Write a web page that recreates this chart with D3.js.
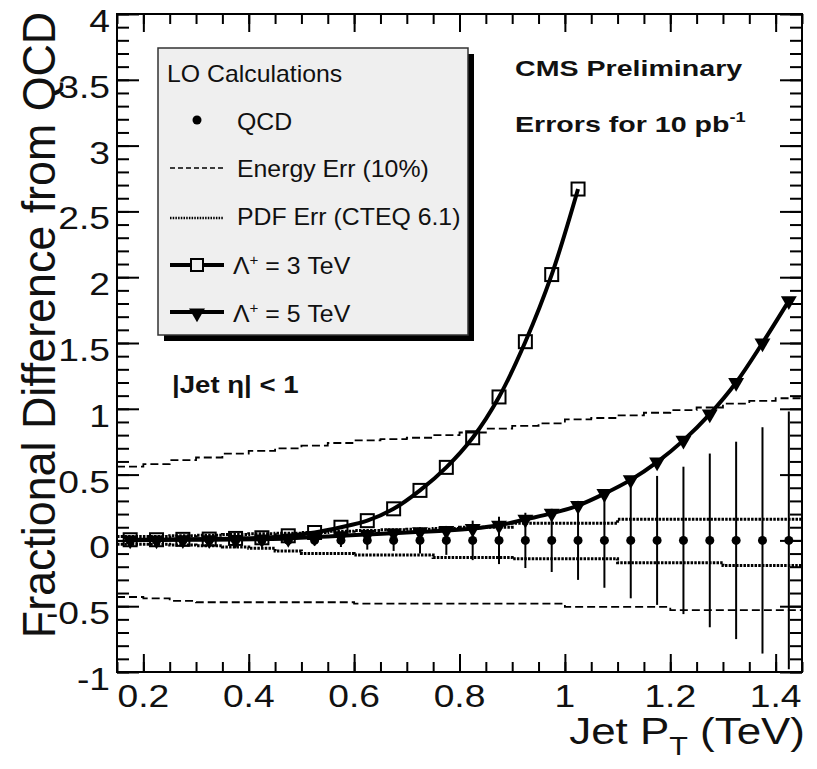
<!DOCTYPE html>
<html>
<head>
<meta charset="utf-8">
<script src="https://cdn.jsdelivr.net/npm/d3@7"></script>
<style>
  body { margin: 0; background: #ffffff; }
  svg { display: block; font-family: "Liberation Sans", Arial, Helvetica, sans-serif; }
</style>
</head>
<body>
<div id="chart"></div>
<script>
// bin centres of the jet pT histogram (TeV)
const binCenters = [0.175, 0.225, 0.275, 0.325, 0.375, 0.425, 0.475, 0.525, 0.575, 0.625,
    0.675, 0.725, 0.775, 0.825, 0.875, 0.925, 0.975, 1.025, 1.075, 1.125,
    1.175, 1.225, 1.275, 1.325, 1.375, 1.425];
const binWidth = 0.05;

// QCD statistical error for 10 pb-1 (points sit at 0)
const qcdErr = [0.005, 0.005, 0.008, 0.01, 0.015, 0.02, 0.03, 0.04, 0.05, 0.07,
    0.08, 0.1, 0.11, 0.15, 0.18, 0.21, 0.24, 0.3, 0.36, 0.44,
    0.49, 0.56, 0.66, 0.75, 0.86, 0.98];

// contact interaction Lambda+ = 3 TeV (first 18 bins)
const lambda3 = [0.005, 0.005, 0.008, 0.01, 0.015, 0.02, 0.035, 0.06, 0.1, 0.15,
    0.24, 0.38, 0.555, 0.78, 1.09, 1.51, 2.02, 2.67];

// contact interaction Lambda+ = 5 TeV
const lambda5 = [0.002, 0.003, 0.004, 0.005, 0.007, 0.01, 0.015, 0.025, 0.035, 0.045,
    0.055, 0.065, 0.075, 0.09, 0.115, 0.16, 0.205, 0.265, 0.355, 0.46,
    0.595, 0.76, 0.96, 1.2, 1.5, 1.82];

// jet energy scale error (10%)
const energyUp = [0.56, 0.58, 0.61, 0.63, 0.66, 0.68, 0.7, 0.72, 0.74, 0.76,
    0.77, 0.78, 0.8, 0.82, 0.85, 0.87, 0.89, 0.92, 0.93, 0.95,
    0.97, 0.99, 1.01, 1.04, 1.06, 1.08];
const energyDown = [-0.43, -0.44, -0.46, -0.47, -0.47, -0.47, -0.47, -0.47, -0.47, -0.48,
    -0.48, -0.48, -0.48, -0.48, -0.48, -0.48, -0.48, -0.505, -0.505, -0.505,
    -0.505, -0.53, -0.53, -0.53, -0.53, -0.53];

// PDF error (CTEQ 6.1)
const pdfUp = [0.03, 0.03, 0.035, 0.04, 0.045, 0.05, 0.055, 0.06, 0.07, 0.075,
    0.08, 0.085, 0.09, 0.1, 0.1, 0.13, 0.13, 0.13, 0.13, 0.16,
    0.16, 0.16, 0.16, 0.16, 0.16, 0.16];
const pdfDown = [-0.03, -0.03, -0.035, -0.04, -0.05, -0.06, -0.08, -0.1, -0.1, -0.11,
    -0.11, -0.11, -0.13, -0.13, -0.13, -0.14, -0.14, -0.14, -0.14, -0.17,
    -0.17, -0.17, -0.17, -0.19, -0.19, -0.19];

const xTicks = [0.2, 0.4, 0.6, 0.8, 1.0, 1.2, 1.4];
const xTickLabels = ["0.2", "0.4", "0.6", "0.8", "1", "1.2", "1.4"];
const yTicks = [-1, -0.5, 0, 0.5, 1, 1.5, 2, 2.5, 3, 3.5, 4];
const yTickLabels = ["-1", "-0.5", "0", "0.5", "1", "1.5", "2", "2.5", "3", "3.5", "4"];

// set the dimensions of the frame
let W = 817, H = 769;
let frame = {left: 117, right: 802, top: 14, bottom: 672};
let sx = 1.17; // the picture is horizontally stretched

let svg = d3.select("#chart").append("svg")
    .attr("width", W)
    .attr("height", H);

svg.append("rect").attr("width", W).attr("height", H).attr("fill", "#fff");

let x = d3.scaleLinear().domain([0.15, 1.45]).range([frame.left, frame.right]);
let y = d3.scaleLinear().domain([-1, 4]).range([frame.bottom, frame.top]);

// stretched text helper
function label(g, px, py, txt, size, anchor, weight, stretch, stretchY) {
    return g.append("text")
        .attr("transform", "translate(" + px + "," + py + ") scale(" + (stretch || sx) + "," + (stretchY || 1) + ")")
        .attr("text-anchor", anchor || "start")
        .style("font-size", size + "px")
        .style("font-weight", weight || "normal")
        .style("fill", "#111")
        .text(txt);
}

let plot = svg.append("g");

// energy and pdf error as histogram outlines
function stepPoints(vals) {
    let pts = [];
    vals.forEach(function (v, i) {
        pts.push([binCenters[i] - binWidth / 2, v]);
        pts.push([binCenters[i] + binWidth / 2, v]);
    });
    return pts;
}
let stepLine = d3.line().x(d => x(d[0])).y(d => y(d[1]));

[energyUp, energyDown].forEach(function (vals) {
    plot.append("path")
        .attr("d", stepLine(stepPoints(vals)))
        .attr("fill", "none")
        .attr("stroke", "#000")
        .attr("stroke-width", 1.8)
        .attr("stroke-dasharray", "8,4");
});

[pdfUp, pdfDown].forEach(function (vals) {
    plot.append("path")
        .attr("d", stepLine(stepPoints(vals)))
        .attr("fill", "none")
        .attr("stroke", "#000")
        .attr("stroke-width", 3)
        .attr("stroke-dasharray", "2.5,1.2");
});

// QCD error bars and points
plot.selectAll(".err")
    .data(binCenters)
    .enter().append("line")
    .attr("x1", d => x(d)).attr("x2", d => x(d))
    .attr("y1", (d, i) => y(qcdErr[i])).attr("y2", (d, i) => y(-qcdErr[i]))
    .attr("stroke", "#000")
    .attr("stroke-width", 2);

plot.selectAll(".qcd")
    .data(binCenters)
    .enter().append("circle")
    .attr("cx", d => x(d)).attr("cy", y(0))
    .attr("r", 4.5)
    .attr("fill", "#000");

// signal curves
let curve = d3.line().curve(d3.curveCatmullRom).x(d => x(d[0])).y(d => y(d[1]));
let pts3 = lambda3.map((v, i) => [binCenters[i], v]);
let pts5 = lambda5.map((v, i) => [binCenters[i], v]);

plot.append("path").attr("d", curve(pts3))
    .attr("fill", "none").attr("stroke", "#000").attr("stroke-width", 4);
plot.append("path").attr("d", curve(pts5))
    .attr("fill", "none").attr("stroke", "#000").attr("stroke-width", 4);

let sq = 13;
plot.selectAll(".sq")
    .data(pts3)
    .enter().append("rect")
    .attr("x", d => x(d[0]) - sq / 2).attr("y", d => y(d[1]) - sq / 2)
    .attr("width", sq).attr("height", sq)
    .attr("fill", "none").attr("stroke", "#000").attr("stroke-width", 2);

let tri = d3.symbol().type(d3.symbolTriangle).size(110);
plot.selectAll(".tri")
    .data(pts5)
    .enter().append("path")
    .attr("d", tri)
    .attr("transform", d => "translate(" + x(d[0]) + "," + y(d[1]) + ") rotate(180)")
    .attr("fill", "#000");

// axes: ticks inside the frame on all four sides
let xMinor = d3.range(0.15, 1.451, 0.05);
let yMinor = d3.range(-1, 4.001, 0.1);

svg.append("g").attr("transform", "translate(0," + frame.bottom + ")")
    .call(d3.axisBottom(x).tickValues(xTicks).tickSize(-18).tickFormat(""));
svg.append("g").attr("transform", "translate(0," + frame.bottom + ")")
    .call(d3.axisBottom(x).tickValues(xMinor).tickSize(-10).tickFormat(""));
svg.append("g").attr("transform", "translate(0," + frame.top + ")")
    .call(d3.axisTop(x).tickValues(xTicks).tickSize(-18).tickFormat(""));
svg.append("g").attr("transform", "translate(0," + frame.top + ")")
    .call(d3.axisTop(x).tickValues(xMinor).tickSize(-10).tickFormat(""));

svg.append("g").attr("transform", "translate(" + frame.left + ",0)")
    .call(d3.axisLeft(y).tickValues(yTicks).tickSize(-22).tickFormat(""));
svg.append("g").attr("transform", "translate(" + frame.left + ",0)")
    .call(d3.axisLeft(y).tickValues(yMinor).tickSize(-12).tickFormat(""));
svg.append("g").attr("transform", "translate(" + frame.right + ",0)")
    .call(d3.axisRight(y).tickValues(yTicks).tickSize(-22).tickFormat(""));
svg.append("g").attr("transform", "translate(" + frame.right + ",0)")
    .call(d3.axisRight(y).tickValues(yMinor).tickSize(-12).tickFormat(""));

svg.selectAll(".domain").remove();
svg.selectAll(".tick line").attr("stroke", "#000").attr("stroke-width", 2);

svg.append("rect")
    .attr("x", frame.left).attr("y", frame.top)
    .attr("width", frame.right - frame.left).attr("height", frame.bottom - frame.top)
    .attr("fill", "none").attr("stroke", "#000").attr("stroke-width", 2);

// tick labels
xTicks.forEach(function (t, i) {
    label(svg, x(t), 707, xTickLabels[i], 31, "middle", "normal", 1.2);
});
yTicks.forEach(function (t, i) {
    label(svg, 110, y(t) + 18, yTickLabels[i], 31, "end", "normal", 1.2);
});

// axis titles
let xt = label(svg, 805, 744, "Jet P", 36, "end", "normal", 1.22, 1.03);
xt.append("tspan").attr("dy", 11).style("font-size", "25px").text("T");
xt.append("tspan").attr("dy", -11).text(" (TeV)");

svg.append("text")
    .attr("transform", "translate(55,325) rotate(-90) scale(1.12,1.15)")
    .attr("text-anchor", "middle")
    .style("font-size", "40px")
    .style("fill", "#111")
    .text("Fractional Difference from QCD");

// annotations
label(svg, 515, 76, "CMS Preliminary", 22, "start", "bold", 1.3);
let er = label(svg, 515, 132, "Errors for 10 pb", 22, "start", "bold", 1.3);
er.append("tspan").attr("dy", -10).style("font-size", "14px").text("-1");
label(svg, 172, 393, "|Jet \u03b7| < 1", 23, "start", "bold", 1.2);

// legend
let leg = {x: 158, y: 48, w: 310, h: 287};
svg.append("rect")
    .attr("x", leg.x + 6).attr("y", leg.y + 6).attr("width", leg.w).attr("height", leg.h)
    .attr("fill", "#000");
svg.append("rect")
    .attr("x", leg.x).attr("y", leg.y).attr("width", leg.w).attr("height", leg.h)
    .attr("fill", "#efefef").attr("stroke", "#333").attr("stroke-width", 1.5);

let lx1 = 170, lx2 = 224, lmid = 197, ltext = 237;
label(svg, 167, 82, "LO Calculations", 23, "start", "normal", 1.08);

svg.append("circle").attr("cx", lmid).attr("cy", 120).attr("r", 4.5).attr("fill", "#000");
label(svg, ltext, 130, "QCD", 23, "start", "normal", 1.08);

svg.append("line").attr("x1", lx1).attr("x2", lx2).attr("y1", 168).attr("y2", 168)
    .attr("stroke", "#000").attr("stroke-width", 1.6).attr("stroke-dasharray", "5,3");
label(svg, ltext, 177, "Energy Err (10%)", 23, "start", "normal", 1.08);

svg.append("line").attr("x1", lx1).attr("x2", lx2).attr("y1", 218).attr("y2", 218)
    .attr("stroke", "#000").attr("stroke-width", 2.5).attr("stroke-dasharray", "1.5,1.2");
label(svg, ltext, 225, "PDF Err (CTEQ 6.1)", 23, "start", "normal", 1.08);

svg.append("line").attr("x1", lx1).attr("x2", lx2).attr("y1", 265).attr("y2", 265)
    .attr("stroke", "#000").attr("stroke-width", 4);
svg.append("rect").attr("x", lmid - 6).attr("y", 259).attr("width", 12).attr("height", 12)
    .attr("fill", "#efefef").attr("stroke", "#000").attr("stroke-width", 2);
let l3 = label(svg, 233, 274, "\u039b", 23, "start", "normal", 1.08);
l3.append("tspan").attr("dy", -9).style("font-size", "14px").text("+");
l3.append("tspan").attr("dy", 9).text(" = 3 TeV");

svg.append("line").attr("x1", lx1).attr("x2", lx2).attr("y1", 312).attr("y2", 312)
    .attr("stroke", "#000").attr("stroke-width", 4);
svg.append("path").attr("d", tri)
    .attr("transform", "translate(" + lmid + ",313) rotate(180)")
    .attr("fill", "#000");
let l5 = label(svg, 233, 322, "\u039b", 23, "start", "normal", 1.08);
l5.append("tspan").attr("dy", -9).style("font-size", "14px").text("+");
l5.append("tspan").attr("dy", 9).text(" = 5 TeV");
</script>
</body>
</html>
